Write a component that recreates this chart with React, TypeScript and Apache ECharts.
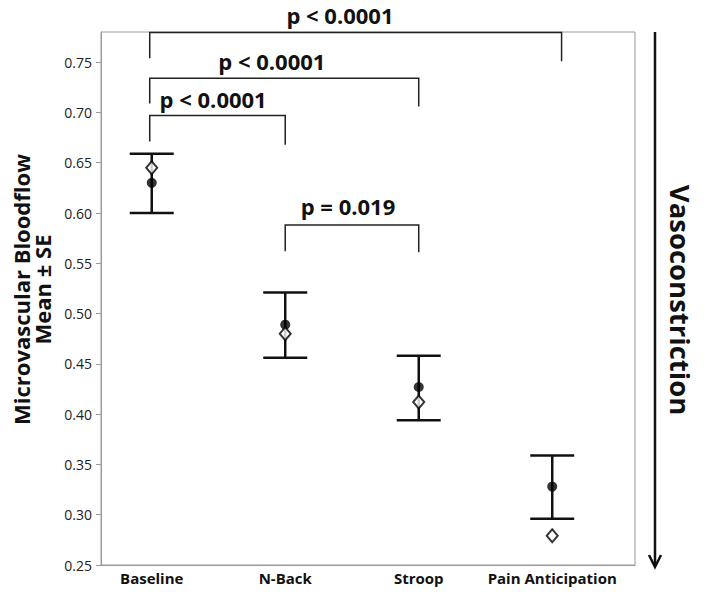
import React, { useEffect, useRef } from "react";
import * as echarts from "echarts";

const categories = ["Baseline", "N-Back", "Stroop", "Pain Anticipation"];
const meanValues = [0.63, 0.489, 0.427, 0.328];
const medianValues = [0.645, 0.48, 0.412, 0.279];
const upperSE = [0.659, 0.521, 0.458, 0.359];
const lowerSE = [0.6, 0.456, 0.394, 0.296];
const yTicks = [0.25, 0.3, 0.35, 0.4, 0.45, 0.5, 0.55, 0.6, 0.65, 0.7, 0.75];

// brackets: [fromX, toX, topY, leftEndY, rightEndY, labelX, labelY]
const bracketFrom = [0.985, 0.985, 0.985, 2];
const bracketTo = [4.07, 3.0, 2.0, 3.0];
const bracketTop = [0.7794, 0.734, 0.697, 0.588];
const bracketLeftEnd = [0.754, 0.709, 0.671, 0.562];
const bracketRightEnd = [0.751, 0.706, 0.668, 0.561];
const bracketLabelX = [2.41, 1.9, 1.46, 2.47];
const bracketLabelY = [0.797, 0.751, 0.7135, 0.6065];
const bracketLabels = ["p < 0.0001", "p < 0.0001", "p < 0.0001", "p = 0.019"];

const FONT = "'Open Sans', 'DejaVu Sans', sans-serif";

export default function App() {
  const ref = useRef<HTMLDivElement>(null);
  useEffect(() => {
    document.body.style.margin = "0";
    if (!ref.current) return;
    const chart = echarts.init(ref.current, undefined, { renderer: "svg" });

    const errData = categories.map((_, i) => [i + 1, lowerSE[i], upperSE[i]]);
    const meanData = categories.map((_, i) => [i + 1, meanValues[i]]);
    const medData = categories.map((_, i) => [i + 1, medianValues[i]]);
    const bracketData = bracketLabels.map((_, i) => [
      bracketFrom[i],
      bracketTo[i],
      bracketTop[i],
      bracketLeftEnd[i],
      bracketRightEnd[i],
      bracketLabelX[i],
      bracketLabelY[i],
      i,
    ]);

    chart.setOption({
      animation: false,
      backgroundColor: "#fff",
      grid: {
        left: 101,
        top: 32,
        right: 72,
        bottom: 34,
        show: true,
        borderColor: "#9a9a9a",
        borderWidth: 1,
        containLabel: false,
        outerBoundsMode: "none",
      },
      xAxis: {
        type: "value",
        min: 0.62,
        max: 4.62,
        splitLine: { show: false },
        axisLine: { show: true, lineStyle: { color: "#9a9a9a", width: 1 } },
        axisTick: { show: false },
        axisLabel: {
          customValues: [1, 2, 3, 4],
          formatter: (v: number) => categories[Math.round(v) - 1] ?? "",
          fontFamily: FONT,
          fontWeight: "bold",
          fontSize: 15,
          color: "#111",
          margin: 5,
        },
      },
      yAxis: {
        type: "value",
        min: 0.25,
        max: 0.78,
        splitLine: { show: false },
        axisLine: { show: true, lineStyle: { color: "#9a9a9a", width: 1 } },
        axisTick: {
          show: true,
          customValues: yTicks,
          length: 5,
          lineStyle: { color: "#9a9a9a", width: 1 },
        },
        axisLabel: {
          customValues: yTicks,
          formatter: (v: number) => v.toFixed(2),
          fontFamily: FONT,
          fontSize: 14,
          color: "#222",
          margin: 9,
        },
        name: "Microvascular Bloodflow\nMean ± SE",
        nameLocation: "middle",
        nameGap: 49,
        nameTextStyle: {
          fontFamily: FONT,
          fontWeight: "bold",
          fontSize: 22,
          lineHeight: 21,
          color: "#111",
          padding: [0, 0, 0, 18],
        },
      },
      graphic: [
        {
          type: "line",
          shape: { x1: 655, y1: 32, x2: 655, y2: 565 },
          style: { stroke: "#111", lineWidth: 2.5 },
        },
        {
          type: "polyline",
          shape: { points: [[649, 555], [655, 567], [661, 555]] },
          style: { stroke: "#111", lineWidth: 2.5, fill: null },
        },
        {
          type: "text",
          x: 680,
          y: 300,
          rotation: -Math.PI / 2,
          style: {
            text: "Vasoconstriction",
            font: `bold 27.5px ${FONT}`,
            fill: "#111",
            align: "center",
            verticalAlign: "middle",
          },
        },
      ],
      series: [
        {
          type: "custom",
          name: "SE",
          data: errData,
          clip: false,
          renderItem: (params: any, api: any) => {
            const x = api.value(0);
            const lo = api.coord([x, api.value(1)]);
            const hi = api.coord([x, api.value(2)]);
            const hw = 22;
            const st = { stroke: "#111", lineWidth: 2.5 };
            return {
              type: "group",
              children: [
                { type: "line", shape: { x1: hi[0], y1: hi[1], x2: lo[0], y2: lo[1] }, style: st },
                { type: "line", shape: { x1: hi[0] - hw, y1: hi[1], x2: hi[0] + hw, y2: hi[1] }, style: st },
                { type: "line", shape: { x1: lo[0] - hw, y1: lo[1], x2: lo[0] + hw, y2: lo[1] }, style: st },
              ],
            };
          },
          z: 2,
        },
        {
          type: "custom",
          name: "brackets",
          data: bracketData,
          clip: false,
          renderItem: (params: any, api: any) => {
            const x1 = api.value(0);
            const x2 = api.value(1);
            const top = api.value(2);
            const lTop = api.coord([x1, top]);
            const rTop = api.coord([x2, top]);
            const lEnd = api.coord([x1, api.value(3)]);
            const rEnd = api.coord([x2, api.value(4)]);
            const lab = api.coord([api.value(5), api.value(6)]);
            const idx = api.value(7);
            return {
              type: "group",
              children: [
                {
                  type: "polyline",
                  shape: { points: [lEnd, lTop, rTop, rEnd] },
                  style: { stroke: "#222", lineWidth: 1.5, fill: null },
                },
                {
                  type: "text",
                  x: lab[0],
                  y: lab[1],
                  style: {
                    text: bracketLabels[idx],
                    font: `bold 22px ${FONT}`,
                    fill: "#111",
                    align: "center",
                    verticalAlign: "middle",
                  },
                },
              ],
            };
          },
          z: 1,
        },
        {
          type: "scatter",
          name: "Mean",
          data: meanData,
          symbol: "circle",
          symbolSize: 10,
          itemStyle: { color: "#000" },
          z: 3,
        },
        {
          type: "scatter",
          name: "Median",
          data: medData,
          symbol: "diamond",
          symbolSize: [11, 13],
          itemStyle: { color: "#fff", borderColor: "#000", borderWidth: 2 },
          z: 4,
        },
      ],
    });
    return () => chart.dispose();
  }, []);
  return <div ref={ref} style={{ width: 707, height: 599 }} />;
}
